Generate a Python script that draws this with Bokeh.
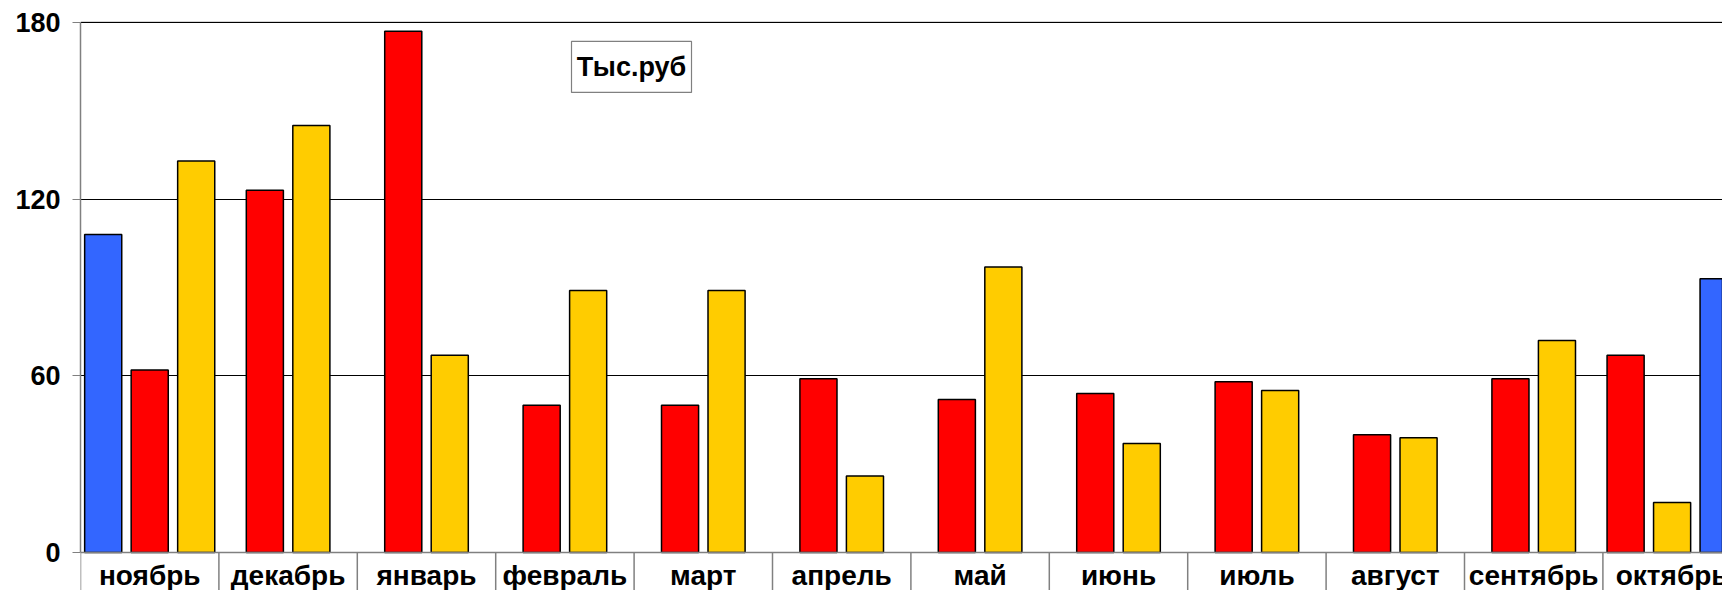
from bokeh.plotting import figure
from bokeh.models import Range1d, FixedTicker, Span, ColumnDataSource
from bokeh.core.properties import value
from bokeh.embed import file_html
from bokeh.resources import INLINE

# ---- data ----
months = ["ноябрь", "декабрь", "январь", "февраль", "март", "апрель",
          "май", "июнь", "июль", "август", "сентябрь", "октябрь"]
blue_first = [108, None, None, None, None, None, None, None, None, None, None, None]
red = [62, 123, 177, 50, 50, 59, 52, 54, 58, 40, 59, 67]
yellow = [133, 145, 67, 89, 89, 26, 97, 37, 55, 39, 72, 17]
blue_last = [None, None, None, None, None, None, None, None, None, None, None, 93]
y_ticks = [0, 60, 120, 180]
title_text = "Тыс.руб"

series = [(blue_first, "#3366FF"), (red, "#FF0000"), (yellow, "#FFCC00"), (blue_last, "#3366FF")]

# ---- layout constants ----
W, H = 1722, 590
border_left, border_top = 80, 21
cat_px = 138.4
frame_w = W - border_left
frame_h = H - border_top
zero_from_top = 531.0
px_per_unit = zero_from_top / 180.0
y_max = 180 + 1.0 / px_per_unit
y_min = -(frame_h - zero_from_top) / px_per_unit
x_max = frame_w / cat_px
bar_w = 0.268
pitch = 0.336

xs, tops, colors = [], [], []
for i in range(len(months)):
    present = [(s[i], c) for s, c in series if s[i] is not None]
    n = len(present)
    for k, (v, c) in enumerate(present):
        xs.append(i + 0.5 + (k - (n - 1) / 2) * pitch)
        tops.append(v)
        colors.append(c)
src = ColumnDataSource(dict(x=xs, top=tops, color=colors))

p = figure(width=W, height=H, x_range=Range1d(0, x_max), y_range=Range1d(y_min, 180),
           x_axis_location=None, output_backend="svg", toolbar_location=None,
           min_border_left=border_left, min_border_right=0, min_border_top=border_top,
           min_border_bottom=0)
p.y_range.end = y_max
p.outline_line_color = None
p.background_fill_color = "white"
p.border_fill_color = "white"
p.xgrid.visible = False
p.ygrid.ticker = FixedTicker(ticks=[t for t in y_ticks if t > 0])
p.ygrid.grid_line_color = "black"
p.ygrid.grid_line_width = 1

ax = p.yaxis[0]
ax.ticker = FixedTicker(ticks=y_ticks)
ax.bounds = (0, 180)
ax.major_tick_out = 8
ax.major_tick_in = 0
ax.minor_tick_out = 0
ax.minor_tick_in = 0
ax.axis_line_color = "#808080"
ax.axis_line_width = 1.5
ax.major_tick_line_color = "#808080"
ax.major_label_text_font = "Liberation Sans"
ax.major_label_text_font_size = "27px"
ax.major_label_text_font_style = "bold"
ax.major_label_text_color = "black"
ax.major_label_standoff = 12

# top border line (gray above the 180 gridline)
p.add_layout(Span(location=180 + 1.2 / px_per_unit, dimension="width",
                  line_color="#999999", line_width=1))

# bars
p.vbar(x="x", top="top", width=bar_w, bottom=0, source=src,
       fill_color="color", line_color="black", line_width=1.5)

# zero line
p.add_layout(Span(location=0, dimension="width", line_color="#808080", line_width=1.5))

# category separators and labels (table-like axis)
bounds = list(range(len(months) + 1))
p.segment(x0=bounds, y0=[0] * len(bounds), x1=bounds, y1=[y_min] * len(bounds),
          line_color="#808080", line_width=1.5)
label_y = -(575 - 552) / px_per_unit
p.text(x=[i + 0.5 for i in range(len(months))], y=[label_y] * len(months), text=months,
       text_align="center", text_baseline="alphabetic",
       text_font=value("Liberation Sans"), text_font_size="28px",
       text_font_style="bold", text_color="black")

# title box
tx = (631 - border_left) / cat_px
ty = (552 - 65.5) / px_per_unit
p.rect(x=[tx], y=[ty], width=120, height=51, width_units="screen", height_units="screen",
       fill_color="white", line_color="#808080", line_width=1.2)
p.text(x=[tx], y=[ty], text=[title_text], text_align="center", text_baseline="middle",
       text_font=value("Liberation Sans"), text_font_size="27px",
       text_font_style="bold", text_color="black")

open("out.html", "w").write(file_html(p, INLINE))
